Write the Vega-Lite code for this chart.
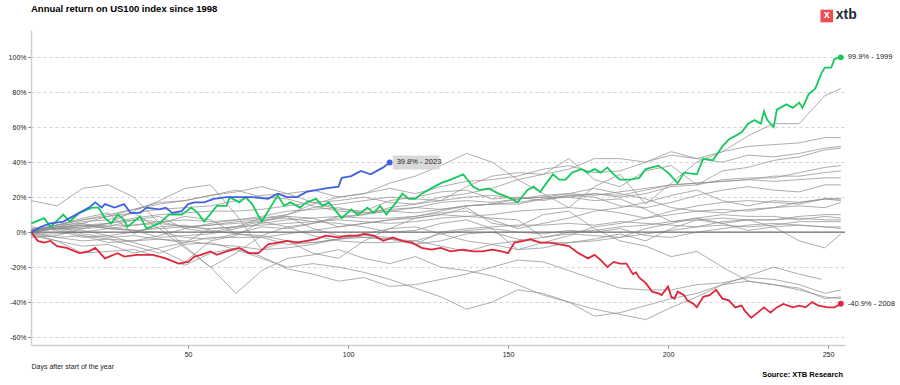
{
"$schema": "https://vega.github.io/schema/vega-lite/v6.json",
"autosize": {"type": "none"},
"padding": {"left": 31, "top": 30, "right": 55, "bottom": 40},
"width": 814,
"height": 315,
"background": "white",
"config": {"view": {"stroke": null}, "font": "Liberation Sans"},
"resolve": {"axis": {"x": "independent", "y": "independent"}},
"datasets": {
"grey": [
{"s":"1998","d":1,"r":0},{"s":"1998","d":9,"r":2},{"s":"1998","d":17,"r":5},{"s":"1998","d":25,"r":9},{"s":"1998","d":33,"r":13},{"s":"1998","d":41,"r":16},{"s":"1998","d":49,"r":18},{"s":"1998","d":57,"r":21},{"s":"1998","d":65,"r":23},{"s":"1998","d":73,"r":26},{"s":"1998","d":81,"r":22},{"s":"1998","d":89,"r":24},{"s":"1998","d":97,"r":20},{"s":"1998","d":105,"r":22},{"s":"1998","d":113,"r":28},{"s":"1998","d":121,"r":32},{"s":"1998","d":129,"r":38},{"s":"1998","d":137,"r":45},{"s":"1998","d":145,"r":40},{"s":"1998","d":153,"r":30},{"s":"1998","d":161,"r":22},{"s":"1998","d":169,"r":14},{"s":"1998","d":177,"r":26},{"s":"1998","d":185,"r":33},{"s":"1998","d":193,"r":16},{"s":"1998","d":201,"r":28},{"s":"1998","d":209,"r":40},{"s":"1998","d":217,"r":46},{"s":"1998","d":225,"r":55},{"s":"1998","d":233,"r":62},{"s":"1998","d":241,"r":62},{"s":"1998","d":249,"r":78},{"s":"1998","d":254,"r":82},
{"s":"2000","d":1,"r":-3},{"s":"2000","d":9,"r":-2},{"s":"2000","d":17,"r":2},{"s":"2000","d":25,"r":5},{"s":"2000","d":33,"r":12},{"s":"2000","d":41,"r":18},{"s":"2000","d":49,"r":25},{"s":"2000","d":57,"r":27},{"s":"2000","d":65,"r":10},{"s":"2000","d":73,"r":-10},{"s":"2000","d":81,"r":-5},{"s":"2000","d":89,"r":-12},{"s":"2000","d":97,"r":-15},{"s":"2000","d":105,"r":-5},{"s":"2000","d":113,"r":2},{"s":"2000","d":121,"r":8},{"s":"2000","d":129,"r":10},{"s":"2000","d":137,"r":14},{"s":"2000","d":145,"r":5},{"s":"2000","d":153,"r":3},{"s":"2000","d":161,"r":10},{"s":"2000","d":169,"r":12},{"s":"2000","d":177,"r":2},{"s":"2000","d":185,"r":-5},{"s":"2000","d":193,"r":-8},{"s":"2000","d":201,"r":-14},{"s":"2000","d":209,"r":-11},{"s":"2000","d":217,"r":-20},{"s":"2000","d":225,"r":-28},{"s":"2000","d":233,"r":-30},{"s":"2000","d":241,"r":-32},{"s":"2000","d":249,"r":-38},{"s":"2000","d":254,"r":-37},
{"s":"2001","d":1,"r":18},{"s":"2001","d":9,"r":15},{"s":"2001","d":17,"r":25},{"s":"2001","d":25,"r":27},{"s":"2001","d":33,"r":20},{"s":"2001","d":41,"r":5},{"s":"2001","d":49,"r":-8},{"s":"2001","d":57,"r":-20},{"s":"2001","d":65,"r":-35},{"s":"2001","d":73,"r":-22},{"s":"2001","d":81,"r":-15},{"s":"2001","d":89,"r":-13},{"s":"2001","d":97,"r":-10},{"s":"2001","d":105,"r":-15},{"s":"2001","d":113,"r":-18},{"s":"2001","d":121,"r":-14},{"s":"2001","d":129,"r":-20},{"s":"2001","d":137,"r":-22},{"s":"2001","d":145,"r":-25},{"s":"2001","d":153,"r":-30},{"s":"2001","d":161,"r":-36},{"s":"2001","d":169,"r":-40},{"s":"2001","d":177,"r":-48},{"s":"2001","d":185,"r":-46},{"s":"2001","d":193,"r":-42},{"s":"2001","d":201,"r":-38},{"s":"2001","d":209,"r":-35},{"s":"2001","d":217,"r":-30},{"s":"2001","d":225,"r":-25},{"s":"2001","d":233,"r":-20},{"s":"2001","d":241,"r":-24},{"s":"2001","d":248,"r":-27},
{"s":"2002","d":1,"r":0},{"s":"2002","d":9,"r":-3},{"s":"2002","d":17,"r":-2},{"s":"2002","d":25,"r":-4},{"s":"2002","d":33,"r":-8},{"s":"2002","d":41,"r":-12},{"s":"2002","d":49,"r":-7},{"s":"2002","d":57,"r":-6},{"s":"2002","d":65,"r":-10},{"s":"2002","d":73,"r":-15},{"s":"2002","d":81,"r":-20},{"s":"2002","d":89,"r":-18},{"s":"2002","d":97,"r":-20},{"s":"2002","d":105,"r":-23},{"s":"2002","d":113,"r":-27},{"s":"2002","d":121,"r":-32},{"s":"2002","d":129,"r":-37},{"s":"2002","d":137,"r":-44},{"s":"2002","d":145,"r":-40},{"s":"2002","d":153,"r":-33},{"s":"2002","d":161,"r":-35},{"s":"2002","d":169,"r":-40},{"s":"2002","d":177,"r":-44},{"s":"2002","d":185,"r":-47},{"s":"2002","d":193,"r":-50},{"s":"2002","d":201,"r":-43},{"s":"2002","d":209,"r":-37},{"s":"2002","d":217,"r":-30},{"s":"2002","d":225,"r":-28},{"s":"2002","d":233,"r":-30},{"s":"2002","d":241,"r":-33},{"s":"2002","d":249,"r":-37},{"s":"2002","d":254,"r":-38},
{"s":"2003","d":1,"r":1},{"s":"2003","d":9,"r":3},{"s":"2003","d":17,"r":-1},{"s":"2003","d":25,"r":-3},{"s":"2003","d":33,"r":-2},{"s":"2003","d":41,"r":-4},{"s":"2003","d":49,"r":-6},{"s":"2003","d":57,"r":2},{"s":"2003","d":65,"r":3},{"s":"2003","d":73,"r":8},{"s":"2003","d":81,"r":10},{"s":"2003","d":89,"r":16},{"s":"2003","d":97,"r":20},{"s":"2003","d":105,"r":22},{"s":"2003","d":113,"r":25},{"s":"2003","d":121,"r":22},{"s":"2003","d":129,"r":26},{"s":"2003","d":137,"r":29},{"s":"2003","d":145,"r":30},{"s":"2003","d":153,"r":32},{"s":"2003","d":161,"r":36},{"s":"2003","d":169,"r":38},{"s":"2003","d":177,"r":34},{"s":"2003","d":185,"r":35},{"s":"2003","d":193,"r":40},{"s":"2003","d":201,"r":44},{"s":"2003","d":209,"r":42},{"s":"2003","d":217,"r":40},{"s":"2003","d":225,"r":44},{"s":"2003","d":233,"r":43},{"s":"2003","d":241,"r":45},{"s":"2003","d":249,"r":48},{"s":"2003","d":254,"r":49},
{"s":"2004","d":1,"r":1},{"s":"2004","d":9,"r":4},{"s":"2004","d":17,"r":5},{"s":"2004","d":25,"r":2},{"s":"2004","d":33,"r":1},{"s":"2004","d":41,"r":0},{"s":"2004","d":49,"r":-3},{"s":"2004","d":57,"r":-4},{"s":"2004","d":65,"r":-1},{"s":"2004","d":73,"r":-2},{"s":"2004","d":81,"r":-5},{"s":"2004","d":89,"r":-6},{"s":"2004","d":97,"r":-4},{"s":"2004","d":105,"r":-1},{"s":"2004","d":113,"r":2},{"s":"2004","d":121,"r":3},{"s":"2004","d":129,"r":-1},{"s":"2004","d":137,"r":-5},{"s":"2004","d":145,"r":-7},{"s":"2004","d":153,"r":-10},{"s":"2004","d":161,"r":-9},{"s":"2004","d":169,"r":-6},{"s":"2004","d":177,"r":-5},{"s":"2004","d":185,"r":-3},{"s":"2004","d":193,"r":-1},{"s":"2004","d":201,"r":1},{"s":"2004","d":209,"r":3},{"s":"2004","d":217,"r":6},{"s":"2004","d":225,"r":7},{"s":"2004","d":233,"r":7},{"s":"2004","d":241,"r":9},{"s":"2004","d":249,"r":10},{"s":"2004","d":254,"r":10},
{"s":"2005","d":1,"r":-1},{"s":"2005","d":9,"r":-3},{"s":"2005","d":17,"r":-5},{"s":"2005","d":25,"r":-4},{"s":"2005","d":33,"r":-5},{"s":"2005","d":41,"r":-4},{"s":"2005","d":49,"r":-5},{"s":"2005","d":57,"r":-7},{"s":"2005","d":65,"r":-8},{"s":"2005","d":73,"r":-10},{"s":"2005","d":81,"r":-9},{"s":"2005","d":89,"r":-7},{"s":"2005","d":97,"r":-4},{"s":"2005","d":105,"r":-3},{"s":"2005","d":113,"r":-4},{"s":"2005","d":121,"r":-5},{"s":"2005","d":129,"r":-1},{"s":"2005","d":137,"r":1},{"s":"2005","d":145,"r":2},{"s":"2005","d":153,"r":0},{"s":"2005","d":161,"r":-1},{"s":"2005","d":169,"r":1},{"s":"2005","d":177,"r":0},{"s":"2005","d":185,"r":2},{"s":"2005","d":193,"r":-2},{"s":"2005","d":201,"r":-3},{"s":"2005","d":209,"r":0},{"s":"2005","d":217,"r":2},{"s":"2005","d":225,"r":4},{"s":"2005","d":233,"r":5},{"s":"2005","d":241,"r":4},{"s":"2005","d":249,"r":3},{"s":"2005","d":254,"r":2},
{"s":"2006","d":1,"r":2},{"s":"2006","d":9,"r":3},{"s":"2006","d":17,"r":4},{"s":"2006","d":25,"r":2},{"s":"2006","d":33,"r":1},{"s":"2006","d":41,"r":2},{"s":"2006","d":49,"r":3},{"s":"2006","d":57,"r":4},{"s":"2006","d":65,"r":5},{"s":"2006","d":73,"r":6},{"s":"2006","d":81,"r":3},{"s":"2006","d":89,"r":-2},{"s":"2006","d":97,"r":-5},{"s":"2006","d":105,"r":-6},{"s":"2006","d":113,"r":-6},{"s":"2006","d":121,"r":-5},{"s":"2006","d":129,"r":-8},{"s":"2006","d":137,"r":-11},{"s":"2006","d":145,"r":-7},{"s":"2006","d":153,"r":-5},{"s":"2006","d":161,"r":-3},{"s":"2006","d":169,"r":0},{"s":"2006","d":177,"r":1},{"s":"2006","d":185,"r":3},{"s":"2006","d":193,"r":4},{"s":"2006","d":201,"r":6},{"s":"2006","d":209,"r":7},{"s":"2006","d":217,"r":8},{"s":"2006","d":225,"r":7},{"s":"2006","d":233,"r":7},{"s":"2006","d":241,"r":8},{"s":"2006","d":249,"r":7},{"s":"2006","d":254,"r":7},
{"s":"2007","d":1,"r":1},{"s":"2007","d":9,"r":2},{"s":"2007","d":17,"r":2},{"s":"2007","d":25,"r":3},{"s":"2007","d":33,"r":1},{"s":"2007","d":41,"r":-3},{"s":"2007","d":49,"r":-2},{"s":"2007","d":57,"r":-1},{"s":"2007","d":65,"r":2},{"s":"2007","d":73,"r":5},{"s":"2007","d":81,"r":7},{"s":"2007","d":89,"r":8},{"s":"2007","d":97,"r":9},{"s":"2007","d":105,"r":8},{"s":"2007","d":113,"r":8},{"s":"2007","d":121,"r":9},{"s":"2007","d":129,"r":11},{"s":"2007","d":137,"r":12},{"s":"2007","d":145,"r":7},{"s":"2007","d":153,"r":2},{"s":"2007","d":161,"r":5},{"s":"2007","d":169,"r":8},{"s":"2007","d":177,"r":12},{"s":"2007","d":185,"r":14},{"s":"2007","d":193,"r":17},{"s":"2007","d":201,"r":21},{"s":"2007","d":209,"r":24},{"s":"2007","d":217,"r":18},{"s":"2007","d":225,"r":15},{"s":"2007","d":233,"r":18},{"s":"2007","d":241,"r":17},{"s":"2007","d":249,"r":19},{"s":"2007","d":254,"r":19},
{"s":"2009","d":1,"r":3},{"s":"2009","d":9,"r":1},{"s":"2009","d":17,"r":-3},{"s":"2009","d":25,"r":-2},{"s":"2009","d":33,"r":-6},{"s":"2009","d":41,"r":-10},{"s":"2009","d":49,"r":-17},{"s":"2009","d":57,"r":-5},{"s":"2009","d":65,"r":-2},{"s":"2009","d":73,"r":6},{"s":"2009","d":81,"r":10},{"s":"2009","d":89,"r":14},{"s":"2009","d":97,"r":16},{"s":"2009","d":105,"r":18},{"s":"2009","d":113,"r":20},{"s":"2009","d":121,"r":19},{"s":"2009","d":129,"r":18},{"s":"2009","d":137,"r":26},{"s":"2009","d":145,"r":32},{"s":"2009","d":153,"r":34},{"s":"2009","d":161,"r":33},{"s":"2009","d":169,"r":36},{"s":"2009","d":177,"r":42},{"s":"2009","d":185,"r":42},{"s":"2009","d":193,"r":40},{"s":"2009","d":201,"r":46},{"s":"2009","d":209,"r":42},{"s":"2009","d":217,"r":46},{"s":"2009","d":225,"r":49},{"s":"2009","d":233,"r":50},{"s":"2009","d":241,"r":51},{"s":"2009","d":249,"r":54},{"s":"2009","d":254,"r":54},
{"s":"2010","d":1,"r":1},{"s":"2010","d":9,"r":2},{"s":"2010","d":17,"r":-2},{"s":"2010","d":25,"r":-6},{"s":"2010","d":33,"r":-5},{"s":"2010","d":41,"r":-2},{"s":"2010","d":49,"r":2},{"s":"2010","d":57,"r":5},{"s":"2010","d":65,"r":7},{"s":"2010","d":73,"r":8},{"s":"2010","d":81,"r":9},{"s":"2010","d":89,"r":2},{"s":"2010","d":97,"r":-2},{"s":"2010","d":105,"r":-3},{"s":"2010","d":113,"r":-4},{"s":"2010","d":121,"r":-7},{"s":"2010","d":129,"r":-5},{"s":"2010","d":137,"r":-1},{"s":"2010","d":145,"r":0},{"s":"2010","d":153,"r":-4},{"s":"2010","d":161,"r":-6},{"s":"2010","d":169,"r":-2},{"s":"2010","d":177,"r":3},{"s":"2010","d":185,"r":5},{"s":"2010","d":193,"r":8},{"s":"2010","d":201,"r":10},{"s":"2010","d":209,"r":12},{"s":"2010","d":217,"r":13},{"s":"2010","d":225,"r":12},{"s":"2010","d":233,"r":14},{"s":"2010","d":241,"r":17},{"s":"2010","d":249,"r":19},{"s":"2010","d":254,"r":19},
{"s":"2011","d":1,"r":1},{"s":"2011","d":9,"r":2},{"s":"2011","d":17,"r":3},{"s":"2011","d":25,"r":5},{"s":"2011","d":33,"r":7},{"s":"2011","d":41,"r":6},{"s":"2011","d":49,"r":3},{"s":"2011","d":57,"r":4},{"s":"2011","d":65,"r":6},{"s":"2011","d":73,"r":7},{"s":"2011","d":81,"r":8},{"s":"2011","d":89,"r":6},{"s":"2011","d":97,"r":5},{"s":"2011","d":105,"r":3},{"s":"2011","d":113,"r":0},{"s":"2011","d":121,"r":1},{"s":"2011","d":129,"r":5},{"s":"2011","d":137,"r":7},{"s":"2011","d":145,"r":2},{"s":"2011","d":153,"r":-10},{"s":"2011","d":161,"r":-6},{"s":"2011","d":169,"r":-6},{"s":"2011","d":177,"r":-4},{"s":"2011","d":185,"r":-1},{"s":"2011","d":193,"r":-5},{"s":"2011","d":201,"r":2},{"s":"2011","d":209,"r":7},{"s":"2011","d":217,"r":5},{"s":"2011","d":225,"r":1},{"s":"2011","d":233,"r":3},{"s":"2011","d":241,"r":4},{"s":"2011","d":249,"r":3},{"s":"2011","d":254,"r":3},
{"s":"2012","d":1,"r":1},{"s":"2012","d":9,"r":4},{"s":"2012","d":17,"r":7},{"s":"2012","d":25,"r":10},{"s":"2012","d":33,"r":13},{"s":"2012","d":41,"r":17},{"s":"2012","d":49,"r":18},{"s":"2012","d":57,"r":21},{"s":"2012","d":65,"r":24},{"s":"2012","d":73,"r":20},{"s":"2012","d":81,"r":19},{"s":"2012","d":89,"r":15},{"s":"2012","d":97,"r":12},{"s":"2012","d":105,"r":11},{"s":"2012","d":113,"r":13},{"s":"2012","d":121,"r":14},{"s":"2012","d":129,"r":13},{"s":"2012","d":137,"r":15},{"s":"2012","d":145,"r":16},{"s":"2012","d":153,"r":19},{"s":"2012","d":161,"r":20},{"s":"2012","d":169,"r":22},{"s":"2012","d":177,"r":25},{"s":"2012","d":185,"r":22},{"s":"2012","d":193,"r":19},{"s":"2012","d":201,"r":14},{"s":"2012","d":209,"r":12},{"s":"2012","d":217,"r":11},{"s":"2012","d":225,"r":13},{"s":"2012","d":233,"r":14},{"s":"2012","d":241,"r":15},{"s":"2012","d":249,"r":14},{"s":"2012","d":254,"r":17},
{"s":"2013","d":1,"r":1},{"s":"2013","d":9,"r":2},{"s":"2013","d":17,"r":3},{"s":"2013","d":25,"r":4},{"s":"2013","d":33,"r":4},{"s":"2013","d":41,"r":6},{"s":"2013","d":49,"r":7},{"s":"2013","d":57,"r":6},{"s":"2013","d":65,"r":7},{"s":"2013","d":73,"r":9},{"s":"2013","d":81,"r":12},{"s":"2013","d":89,"r":13},{"s":"2013","d":97,"r":14},{"s":"2013","d":105,"r":11},{"s":"2013","d":113,"r":12},{"s":"2013","d":121,"r":14},{"s":"2013","d":129,"r":17},{"s":"2013","d":137,"r":18},{"s":"2013","d":145,"r":17},{"s":"2013","d":153,"r":19},{"s":"2013","d":161,"r":20},{"s":"2013","d":169,"r":20},{"s":"2013","d":177,"r":22},{"s":"2013","d":185,"r":21},{"s":"2013","d":193,"r":24},{"s":"2013","d":201,"r":27},{"s":"2013","d":209,"r":28},{"s":"2013","d":217,"r":29},{"s":"2013","d":225,"r":30},{"s":"2013","d":233,"r":32},{"s":"2013","d":241,"r":32},{"s":"2013","d":249,"r":34},{"s":"2013","d":254,"r":35},
{"s":"2014","d":1,"r":0},{"s":"2014","d":9,"r":2},{"s":"2014","d":17,"r":1},{"s":"2014","d":25,"r":-2},{"s":"2014","d":33,"r":0},{"s":"2014","d":41,"r":3},{"s":"2014","d":49,"r":4},{"s":"2014","d":57,"r":1},{"s":"2014","d":65,"r":-1},{"s":"2014","d":73,"r":-3},{"s":"2014","d":81,"r":-1},{"s":"2014","d":89,"r":1},{"s":"2014","d":97,"r":3},{"s":"2014","d":105,"r":5},{"s":"2014","d":113,"r":7},{"s":"2014","d":121,"r":8},{"s":"2014","d":129,"r":10},{"s":"2014","d":137,"r":9},{"s":"2014","d":145,"r":10},{"s":"2014","d":153,"r":12},{"s":"2014","d":161,"r":13},{"s":"2014","d":169,"r":14},{"s":"2014","d":177,"r":13},{"s":"2014","d":185,"r":11},{"s":"2014","d":193,"r":8},{"s":"2014","d":201,"r":12},{"s":"2014","d":209,"r":15},{"s":"2014","d":217,"r":17},{"s":"2014","d":225,"r":18},{"s":"2014","d":233,"r":17},{"s":"2014","d":241,"r":16},{"s":"2014","d":249,"r":19},{"s":"2014","d":254,"r":18},
{"s":"2015","d":1,"r":-1},{"s":"2015","d":9,"r":-1},{"s":"2015","d":17,"r":0},{"s":"2015","d":25,"r":2},{"s":"2015","d":33,"r":4},{"s":"2015","d":41,"r":5},{"s":"2015","d":49,"r":3},{"s":"2015","d":57,"r":2},{"s":"2015","d":65,"r":3},{"s":"2015","d":73,"r":4},{"s":"2015","d":81,"r":5},{"s":"2015","d":89,"r":6},{"s":"2015","d":97,"r":7},{"s":"2015","d":105,"r":6},{"s":"2015","d":113,"r":5},{"s":"2015","d":121,"r":6},{"s":"2015","d":129,"r":8},{"s":"2015","d":137,"r":9},{"s":"2015","d":145,"r":8},{"s":"2015","d":153,"r":7},{"s":"2015","d":161,"r":-3},{"s":"2015","d":169,"r":-1},{"s":"2015","d":177,"r":-2},{"s":"2015","d":185,"r":-3},{"s":"2015","d":193,"r":2},{"s":"2015","d":201,"r":5},{"s":"2015","d":209,"r":8},{"s":"2015","d":217,"r":10},{"s":"2015","d":225,"r":9},{"s":"2015","d":233,"r":9},{"s":"2015","d":241,"r":7},{"s":"2015","d":249,"r":9},{"s":"2015","d":254,"r":8},
{"s":"2016","d":1,"r":-2},{"s":"2016","d":9,"r":-5},{"s":"2016","d":17,"r":-8},{"s":"2016","d":25,"r":-7},{"s":"2016","d":33,"r":-12},{"s":"2016","d":41,"r":-9},{"s":"2016","d":49,"r":-6},{"s":"2016","d":57,"r":-3},{"s":"2016","d":65,"r":-3},{"s":"2016","d":73,"r":-3},{"s":"2016","d":81,"r":-7},{"s":"2016","d":89,"r":-6},{"s":"2016","d":97,"r":-4},{"s":"2016","d":105,"r":-2},{"s":"2016","d":113,"r":-3},{"s":"2016","d":121,"r":-7},{"s":"2016","d":129,"r":0},{"s":"2016","d":137,"r":2},{"s":"2016","d":145,"r":3},{"s":"2016","d":153,"r":4},{"s":"2016","d":161,"r":4},{"s":"2016","d":169,"r":5},{"s":"2016","d":177,"r":4},{"s":"2016","d":185,"r":6},{"s":"2016","d":193,"r":5},{"s":"2016","d":201,"r":4},{"s":"2016","d":209,"r":3},{"s":"2016","d":217,"r":4},{"s":"2016","d":225,"r":3},{"s":"2016","d":233,"r":4},{"s":"2016","d":241,"r":6},{"s":"2016","d":249,"r":6},{"s":"2016","d":254,"r":6},
{"s":"2017","d":1,"r":1},{"s":"2017","d":9,"r":2},{"s":"2017","d":17,"r":4},{"s":"2017","d":25,"r":5},{"s":"2017","d":33,"r":8},{"s":"2017","d":41,"r":10},{"s":"2017","d":49,"r":11},{"s":"2017","d":57,"r":12},{"s":"2017","d":65,"r":12},{"s":"2017","d":73,"r":13},{"s":"2017","d":81,"r":15},{"s":"2017","d":89,"r":17},{"s":"2017","d":97,"r":18},{"s":"2017","d":105,"r":20},{"s":"2017","d":113,"r":17},{"s":"2017","d":121,"r":16},{"s":"2017","d":129,"r":18},{"s":"2017","d":137,"r":20},{"s":"2017","d":145,"r":21},{"s":"2017","d":153,"r":19},{"s":"2017","d":161,"r":21},{"s":"2017","d":169,"r":22},{"s":"2017","d":177,"r":21},{"s":"2017","d":185,"r":23},{"s":"2017","d":193,"r":25},{"s":"2017","d":201,"r":27},{"s":"2017","d":209,"r":28},{"s":"2017","d":217,"r":29},{"s":"2017","d":225,"r":30},{"s":"2017","d":233,"r":29},{"s":"2017","d":241,"r":30},{"s":"2017","d":249,"r":31},{"s":"2017","d":254,"r":31},
{"s":"2018","d":1,"r":1},{"s":"2018","d":9,"r":4},{"s":"2018","d":17,"r":8},{"s":"2018","d":25,"r":11},{"s":"2018","d":33,"r":-1},{"s":"2018","d":41,"r":5},{"s":"2018","d":49,"r":9},{"s":"2018","d":57,"r":7},{"s":"2018","d":65,"r":-1},{"s":"2018","d":73,"r":3},{"s":"2018","d":81,"r":2},{"s":"2018","d":89,"r":5},{"s":"2018","d":97,"r":8},{"s":"2018","d":105,"r":10},{"s":"2018","d":113,"r":12},{"s":"2018","d":121,"r":11},{"s":"2018","d":129,"r":13},{"s":"2018","d":137,"r":15},{"s":"2018","d":145,"r":16},{"s":"2018","d":153,"r":17},{"s":"2018","d":161,"r":19},{"s":"2018","d":169,"r":20},{"s":"2018","d":177,"r":18},{"s":"2018","d":185,"r":19},{"s":"2018","d":193,"r":13},{"s":"2018","d":201,"r":6},{"s":"2018","d":209,"r":8},{"s":"2018","d":217,"r":5},{"s":"2018","d":225,"r":7},{"s":"2018","d":233,"r":3},{"s":"2018","d":241,"r":-5},{"s":"2018","d":249,"r":-9},{"s":"2018","d":254,"r":-1},
{"s":"2019","d":1,"r":0},{"s":"2019","d":9,"r":4},{"s":"2019","d":17,"r":7},{"s":"2019","d":25,"r":9},{"s":"2019","d":33,"r":11},{"s":"2019","d":41,"r":13},{"s":"2019","d":49,"r":14},{"s":"2019","d":57,"r":15},{"s":"2019","d":65,"r":18},{"s":"2019","d":73,"r":21},{"s":"2019","d":81,"r":22},{"s":"2019","d":89,"r":17},{"s":"2019","d":97,"r":13},{"s":"2019","d":105,"r":12},{"s":"2019","d":113,"r":18},{"s":"2019","d":121,"r":20},{"s":"2019","d":129,"r":23},{"s":"2019","d":137,"r":24},{"s":"2019","d":145,"r":19},{"s":"2019","d":153,"r":20},{"s":"2019","d":161,"r":18},{"s":"2019","d":169,"r":21},{"s":"2019","d":177,"r":22},{"s":"2019","d":185,"r":20},{"s":"2019","d":193,"r":22},{"s":"2019","d":201,"r":26},{"s":"2019","d":209,"r":27},{"s":"2019","d":217,"r":30},{"s":"2019","d":225,"r":31},{"s":"2019","d":233,"r":31},{"s":"2019","d":241,"r":34},{"s":"2019","d":249,"r":37},{"s":"2019","d":254,"r":38},
{"s":"2020","d":1,"r":1},{"s":"2020","d":9,"r":3},{"s":"2020","d":17,"r":6},{"s":"2020","d":25,"r":7},{"s":"2020","d":33,"r":11},{"s":"2020","d":41,"r":2},{"s":"2020","d":49,"r":-9},{"s":"2020","d":57,"r":-20},{"s":"2020","d":65,"r":-12},{"s":"2020","d":73,"r":-2},{"s":"2020","d":81,"r":3},{"s":"2020","d":89,"r":5},{"s":"2020","d":97,"r":9},{"s":"2020","d":105,"r":10},{"s":"2020","d":113,"r":14},{"s":"2020","d":121,"r":16},{"s":"2020","d":129,"r":20},{"s":"2020","d":137,"r":22},{"s":"2020","d":145,"r":25},{"s":"2020","d":153,"r":30},{"s":"2020","d":161,"r":33},{"s":"2020","d":169,"r":42},{"s":"2020","d":177,"r":30},{"s":"2020","d":185,"r":26},{"s":"2020","d":193,"r":35},{"s":"2020","d":201,"r":38},{"s":"2020","d":209,"r":27},{"s":"2020","d":217,"r":35},{"s":"2020","d":225,"r":37},{"s":"2020","d":233,"r":41},{"s":"2020","d":241,"r":43},{"s":"2020","d":249,"r":47},{"s":"2020","d":254,"r":48},
{"s":"2021","d":1,"r":-1},{"s":"2021","d":9,"r":3},{"s":"2021","d":17,"r":4},{"s":"2021","d":25,"r":3},{"s":"2021","d":33,"r":7},{"s":"2021","d":41,"r":9},{"s":"2021","d":49,"r":2},{"s":"2021","d":57,"r":0},{"s":"2021","d":65,"r":3},{"s":"2021","d":73,"r":6},{"s":"2021","d":81,"r":9},{"s":"2021","d":89,"r":8},{"s":"2021","d":97,"r":3},{"s":"2021","d":105,"r":5},{"s":"2021","d":113,"r":7},{"s":"2021","d":121,"r":9},{"s":"2021","d":129,"r":12},{"s":"2021","d":137,"r":15},{"s":"2021","d":145,"r":16},{"s":"2021","d":153,"r":16},{"s":"2021","d":161,"r":19},{"s":"2021","d":169,"r":21},{"s":"2021","d":177,"r":20},{"s":"2021","d":185,"r":15},{"s":"2021","d":193,"r":14},{"s":"2021","d":201,"r":17},{"s":"2021","d":209,"r":21},{"s":"2021","d":217,"r":24},{"s":"2021","d":225,"r":26},{"s":"2021","d":233,"r":24},{"s":"2021","d":241,"r":23},{"s":"2021","d":249,"r":27},{"s":"2021","d":254,"r":27},
{"s":"2022","d":1,"r":-1},{"s":"2022","d":9,"r":-5},{"s":"2022","d":17,"r":-12},{"s":"2022","d":25,"r":-11},{"s":"2022","d":33,"r":-10},{"s":"2022","d":41,"r":-14},{"s":"2022","d":49,"r":-19},{"s":"2022","d":57,"r":-12},{"s":"2022","d":65,"r":-9},{"s":"2022","d":73,"r":-14},{"s":"2022","d":81,"r":-21},{"s":"2022","d":89,"r":-24},{"s":"2022","d":97,"r":-28},{"s":"2022","d":105,"r":-26},{"s":"2022","d":113,"r":-31},{"s":"2022","d":121,"r":-30},{"s":"2022","d":129,"r":-27},{"s":"2022","d":137,"r":-24},{"s":"2022","d":145,"r":-20},{"s":"2022","d":153,"r":-16},{"s":"2022","d":161,"r":-17},{"s":"2022","d":169,"r":-22},{"s":"2022","d":177,"r":-27},{"s":"2022","d":185,"r":-32},{"s":"2022","d":193,"r":-33},{"s":"2022","d":201,"r":-33},{"s":"2022","d":209,"r":-30},{"s":"2022","d":217,"r":-29},{"s":"2022","d":225,"r":-26},{"s":"2022","d":233,"r":-27},{"s":"2022","d":241,"r":-30},{"s":"2022","d":249,"r":-35},{"s":"2022","d":254,"r":-33}
],
"hl": [
{"s":"1999","d":1,"r":5},{"s":"1999","d":5,"r":8},{"s":"1999","d":7,"r":3},{"s":"1999","d":11,"r":10},{"s":"1999","d":13,"r":6},{"s":"1999","d":16,"r":11},{"s":"1999","d":20,"r":14},{"s":"1999","d":22,"r":14},{"s":"1999","d":24,"r":8},{"s":"1999","d":26,"r":5},{"s":"1999","d":28,"r":10},{"s":"1999","d":30,"r":7},{"s":"1999","d":31,"r":3},{"s":"1999","d":35,"r":9},{"s":"1999","d":37,"r":2},{"s":"1999","d":41,"r":5},{"s":"1999","d":44,"r":10},{"s":"1999","d":48,"r":10},{"s":"1999","d":51,"r":14},{"s":"1999","d":53,"r":11},{"s":"1999","d":55,"r":6},{"s":"1999","d":59,"r":15},{"s":"1999","d":62,"r":15},{"s":"1999","d":63,"r":20},{"s":"1999","d":66,"r":17},{"s":"1999","d":68,"r":20},{"s":"1999","d":70,"r":16},{"s":"1999","d":73,"r":6},{"s":"1999","d":76,"r":15},{"s":"1999","d":78,"r":21},{"s":"1999","d":80,"r":15},{"s":"1999","d":82,"r":17},{"s":"1999","d":85,"r":14},{"s":"1999","d":87,"r":17},{"s":"1999","d":90,"r":19},{"s":"1999","d":92,"r":15},{"s":"1999","d":94,"r":17},{"s":"1999","d":98,"r":8},{"s":"1999","d":101,"r":13},{"s":"1999","d":103,"r":10},{"s":"1999","d":104,"r":11},{"s":"1999","d":106,"r":14},{"s":"1999","d":108,"r":11},{"s":"1999","d":110,"r":15},{"s":"1999","d":112,"r":10},{"s":"1999","d":115,"r":17},{"s":"1999","d":117,"r":22},{"s":"1999","d":119,"r":19},{"s":"1999","d":121,"r":19},{"s":"1999","d":123,"r":22},{"s":"1999","d":126,"r":25},{"s":"1999","d":129,"r":28},{"s":"1999","d":132,"r":30},{"s":"1999","d":136,"r":33},{"s":"1999","d":139,"r":26},{"s":"1999","d":141,"r":24},{"s":"1999","d":144,"r":25},{"s":"1999","d":147,"r":22},{"s":"1999","d":150,"r":20},{"s":"1999","d":153,"r":17},{"s":"1999","d":156,"r":24},{"s":"1999","d":158,"r":26},{"s":"1999","d":160,"r":23},{"s":"1999","d":162,"r":28},{"s":"1999","d":164,"r":33},{"s":"1999","d":166,"r":30},{"s":"1999","d":168,"r":30},{"s":"1999","d":170,"r":34},{"s":"1999","d":173,"r":36},{"s":"1999","d":175,"r":34},{"s":"1999","d":177,"r":36},{"s":"1999","d":179,"r":34},{"s":"1999","d":181,"r":37},{"s":"1999","d":183,"r":33},{"s":"1999","d":185,"r":30},{"s":"1999","d":188,"r":30},{"s":"1999","d":191,"r":31},{"s":"1999","d":193,"r":36},{"s":"1999","d":197,"r":38},{"s":"1999","d":200,"r":34},{"s":"1999","d":203,"r":28},{"s":"1999","d":205,"r":34},{"s":"1999","d":209,"r":33},{"s":"1999","d":211,"r":42},{"s":"1999","d":214,"r":41},{"s":"1999","d":217,"r":49},{"s":"1999","d":219,"r":53},{"s":"1999","d":221,"r":55},{"s":"1999","d":223,"r":57},{"s":"1999","d":225,"r":62},{"s":"1999","d":227,"r":64},{"s":"1999","d":229,"r":62},{"s":"1999","d":230,"r":69},{"s":"1999","d":231,"r":64},{"s":"1999","d":233,"r":60},{"s":"1999","d":234,"r":70},{"s":"1999","d":237,"r":73},{"s":"1999","d":239,"r":71},{"s":"1999","d":241,"r":74},{"s":"1999","d":242,"r":71},{"s":"1999","d":244,"r":79},{"s":"1999","d":246,"r":82},{"s":"1999","d":248,"r":91},{"s":"1999","d":249,"r":94},{"s":"1999","d":251,"r":94},{"s":"1999","d":252,"r":99},{"s":"1999","d":254,"r":99.9},
{"s":"2008","d":1,"r":0},{"s":"2008","d":3,"r":-5},{"s":"2008","d":5,"r":-6},{"s":"2008","d":7,"r":-5},{"s":"2008","d":9,"r":-8},{"s":"2008","d":12,"r":-9},{"s":"2008","d":16,"r":-12},{"s":"2008","d":19,"r":-11},{"s":"2008","d":21,"r":-9},{"s":"2008","d":24,"r":-15},{"s":"2008","d":28,"r":-12},{"s":"2008","d":30,"r":-14},{"s":"2008","d":34,"r":-13},{"s":"2008","d":39,"r":-13},{"s":"2008","d":43,"r":-15},{"s":"2008","d":47,"r":-18},{"s":"2008","d":50,"r":-17},{"s":"2008","d":52,"r":-14},{"s":"2008","d":54,"r":-13},{"s":"2008","d":57,"r":-11},{"s":"2008","d":59,"r":-13},{"s":"2008","d":62,"r":-11},{"s":"2008","d":66,"r":-9},{"s":"2008","d":69,"r":-12},{"s":"2008","d":72,"r":-12},{"s":"2008","d":75,"r":-7},{"s":"2008","d":78,"r":-6},{"s":"2008","d":81,"r":-5},{"s":"2008","d":84,"r":-6},{"s":"2008","d":87,"r":-5},{"s":"2008","d":90,"r":-4},{"s":"2008","d":93,"r":-2},{"s":"2008","d":97,"r":-3},{"s":"2008","d":100,"r":-2},{"s":"2008","d":103,"r":-2},{"s":"2008","d":105,"r":-1},{"s":"2008","d":108,"r":-2},{"s":"2008","d":111,"r":-5},{"s":"2008","d":114,"r":-3},{"s":"2008","d":117,"r":-5},{"s":"2008","d":120,"r":-6},{"s":"2008","d":123,"r":-9},{"s":"2008","d":126,"r":-10},{"s":"2008","d":129,"r":-9},{"s":"2008","d":132,"r":-11},{"s":"2008","d":136,"r":-10},{"s":"2008","d":139,"r":-11},{"s":"2008","d":142,"r":-11},{"s":"2008","d":145,"r":-10},{"s":"2008","d":148,"r":-11},{"s":"2008","d":150,"r":-12},{"s":"2008","d":152,"r":-6},{"s":"2008","d":155,"r":-5},{"s":"2008","d":157,"r":-4},{"s":"2008","d":160,"r":-6},{"s":"2008","d":163,"r":-6},{"s":"2008","d":166,"r":-7},{"s":"2008","d":169,"r":-8},{"s":"2008","d":172,"r":-12},{"s":"2008","d":175,"r":-15},{"s":"2008","d":177,"r":-13},{"s":"2008","d":179,"r":-16},{"s":"2008","d":181,"r":-20},{"s":"2008","d":183,"r":-17},{"s":"2008","d":185,"r":-18},{"s":"2008","d":187,"r":-18},{"s":"2008","d":189,"r":-24},{"s":"2008","d":190,"r":-23},{"s":"2008","d":191,"r":-26},{"s":"2008","d":193,"r":-29},{"s":"2008","d":195,"r":-34},{"s":"2008","d":197,"r":-35},{"s":"2008","d":198,"r":-36},{"s":"2008","d":200,"r":-31},{"s":"2008","d":201,"r":-37},{"s":"2008","d":202,"r":-38},{"s":"2008","d":203,"r":-34},{"s":"2008","d":205,"r":-36},{"s":"2008","d":206,"r":-39},{"s":"2008","d":208,"r":-41},{"s":"2008","d":209,"r":-43},{"s":"2008","d":211,"r":-37},{"s":"2008","d":213,"r":-36},{"s":"2008","d":215,"r":-33},{"s":"2008","d":217,"r":-38},{"s":"2008","d":219,"r":-39},{"s":"2008","d":221,"r":-43},{"s":"2008","d":223,"r":-42},{"s":"2008","d":224,"r":-45},{"s":"2008","d":226,"r":-49},{"s":"2008","d":228,"r":-46},{"s":"2008","d":230,"r":-43},{"s":"2008","d":232,"r":-46},{"s":"2008","d":234,"r":-43},{"s":"2008","d":236,"r":-41},{"s":"2008","d":239,"r":-43},{"s":"2008","d":241,"r":-42},{"s":"2008","d":243,"r":-43},{"s":"2008","d":245,"r":-40},{"s":"2008","d":247,"r":-42},{"s":"2008","d":250,"r":-43},{"s":"2008","d":252,"r":-43},{"s":"2008","d":254,"r":-40.9},
{"s":"2023","d":1,"r":0},{"s":"2023","d":4,"r":3},{"s":"2023","d":7,"r":5},{"s":"2023","d":11,"r":6},{"s":"2023","d":14,"r":9},{"s":"2023","d":16,"r":11},{"s":"2023","d":19,"r":14},{"s":"2023","d":21,"r":17},{"s":"2023","d":23,"r":14},{"s":"2023","d":24,"r":16},{"s":"2023","d":27,"r":14},{"s":"2023","d":30,"r":16},{"s":"2023","d":32,"r":11},{"s":"2023","d":35,"r":11},{"s":"2023","d":37,"r":14},{"s":"2023","d":41,"r":13},{"s":"2023","d":43,"r":14},{"s":"2023","d":45,"r":11},{"s":"2023","d":48,"r":12},{"s":"2023","d":50,"r":16},{"s":"2023","d":52,"r":17},{"s":"2023","d":55,"r":17},{"s":"2023","d":58,"r":19},{"s":"2023","d":62,"r":20},{"s":"2023","d":66,"r":20},{"s":"2023","d":70,"r":20},{"s":"2023","d":75,"r":19},{"s":"2023","d":78,"r":22},{"s":"2023","d":81,"r":20},{"s":"2023","d":84,"r":20},{"s":"2023","d":87,"r":23},{"s":"2023","d":90,"r":24},{"s":"2023","d":93,"r":25},{"s":"2023","d":97,"r":26},{"s":"2023","d":98,"r":31},{"s":"2023","d":101,"r":32},{"s":"2023","d":103,"r":34},{"s":"2023","d":104,"r":35},{"s":"2023","d":107,"r":33},{"s":"2023","d":108,"r":34},{"s":"2023","d":111,"r":37},{"s":"2023","d":113,"r":39.8}
],
"lab": [
{"s":"1999","d":254,"r":99.9,"t":"99.9% - 1999"},
{"s":"2008","d":254,"r":-40.9,"t":"-40.9% - 2008"},
{"s":"2023","d":113,"r":39.8,"t":"39.8% - 2023"}
]
},
"layer": [
{
"data": {"name": "grey"},
"mark": {"type": "line", "color": "#8e8e8e", "strokeWidth": 0.9, "opacity": 0.8},
"encoding": {
"x": {"field": "d", "type": "quantitative", "scale": {"domain": [0.9, 255.3], "nice": false, "zero": false},
"axis": {"values": [50, 100, 150, 200, 250], "labelOverlap": false, "grid": false, "domainColor": "#cfcfcf", "domainWidth": 1.5, "tickColor": "#777777", "tickSize": 3, "labelFontSize": 7, "labelColor": "#222222", "labelPadding": 2, "title": "Days after start of the year", "titleFontSize": 7, "titleFontWeight": "normal", "titleColor": "#222222", "titleAnchor": "start", "titleAlign": "left", "titlePadding": 5}},
"y": {"field": "r", "type": "quantitative", "scale": {"domain": [-64.5, 115.5], "nice": false, "zero": false},
"axis": {"values": [-60, -40, -20, 0, 20, 40, 60, 80, 100], "labelOverlap": false, "labelExpr": "datum.value + '%'", "grid": true, "gridColor": "#c8c8c8", "gridDash": [3, 3], "gridWidth": 0.8, "domainColor": "#cfcfcf", "domainWidth": 1.5, "tickColor": "#777777", "tickSize": 3, "labelFontSize": 7, "labelColor": "#222222", "labelPadding": 2, "title": null}},
"detail": {"field": "s", "type": "nominal"}
}
},
{
"data": {"values": [{}]},
"mark": {"type": "rule", "color": "#6e6e6e", "strokeWidth": 1.2},
"encoding": {"y": {"datum": 0, "type": "quantitative", "axis": null}}
},
{
"data": {"name": "hl"},
"mark": {"type": "line", "strokeWidth": 1.8},
"encoding": {
"x": {"field": "d", "type": "quantitative", "axis": null},
"y": {"field": "r", "type": "quantitative", "axis": null},
"color": {"field": "s", "type": "nominal", "scale": {"domain": ["1999", "2008", "2023"], "range": ["#17c95c", "#e0263b", "#3f62e2"]}, "legend": null}
}
},
{
"data": {"name": "lab"},
"transform": [{"filter": "datum.s == '2023'"}],
"mark": {"type": "point", "filled": true, "opacity": 1, "color": "#d9d9d9", "size": 2304, "shape": "M0.13,-0.29H2.08V0.29H0.13Z"},
"encoding": {"x": {"field": "d", "type": "quantitative", "axis": null}, "y": {"field": "r", "type": "quantitative", "axis": null}}
},
{
"data": {"name": "lab"},
"mark": {"type": "point", "filled": true, "opacity": 1, "size": 34},
"encoding": {
"x": {"field": "d", "type": "quantitative", "axis": null},
"y": {"field": "r", "type": "quantitative", "axis": null},
"color": {"field": "s", "type": "nominal", "scale": {"domain": ["1999", "2008", "2023"], "range": ["#17c95c", "#e0263b", "#3f62e2"]}, "legend": null}
}
},
{
"data": {"name": "lab"},
"mark": {"type": "text", "align": "left", "baseline": "middle", "dx": 7, "fontSize": 7.5, "color": "#222222"},
"encoding": {"x": {"field": "d", "type": "quantitative", "axis": null}, "y": {"field": "r", "type": "quantitative", "axis": null}, "text": {"field": "t"}}
},
{
"data": {"values": [{"t": "Annual return on US100 index since 1998"}]},
"mark": {"type": "text", "align": "left", "baseline": "middle", "fontSize": 9.5, "fontWeight": "bold", "color": "#000000"},
"encoding": {"x": {"datum": 0.9, "type": "quantitative", "axis": null}, "y": {"datum": 127.6, "type": "quantitative", "axis": null}, "text": {"field": "t"}}
},
{
"data": {"values": [{"t": "Source: XTB Research"}]},
"mark": {"type": "text", "align": "right", "baseline": "middle", "fontSize": 7.5, "fontWeight": "bold", "color": "#000000"},
"encoding": {"x": {"datum": 254.7, "type": "quantitative", "axis": null}, "y": {"datum": -81.6, "type": "quantitative", "axis": null}, "text": {"field": "t"}}
},
{
"data": {"values": [{}]},
"mark": {"type": "square", "filled": true, "opacity": 1, "color": "#ef4b55", "size": 160},
"encoding": {"x": {"datum": 249.6, "type": "quantitative", "axis": null}, "y": {"datum": 123.5, "type": "quantitative", "axis": null}}
},
{
"data": {"values": [{"t": "x"}]},
"mark": {"type": "text", "align": "center", "baseline": "middle", "fontSize": 11, "fontWeight": "bold", "color": "#ffffff"},
"encoding": {"x": {"datum": 249.6, "type": "quantitative", "axis": null}, "y": {"datum": 124.1, "type": "quantitative", "axis": null}, "text": {"field": "t"}}
},
{
"data": {"values": [{"t": "xtb"}]},
"mark": {"type": "text", "align": "left", "baseline": "middle", "fontSize": 14, "fontWeight": "bold", "color": "#1f2b3a"},
"encoding": {"x": {"datum": 252.4, "type": "quantitative", "axis": null}, "y": {"datum": 123.9, "type": "quantitative", "axis": null}, "text": {"field": "t"}}
}
]
}
